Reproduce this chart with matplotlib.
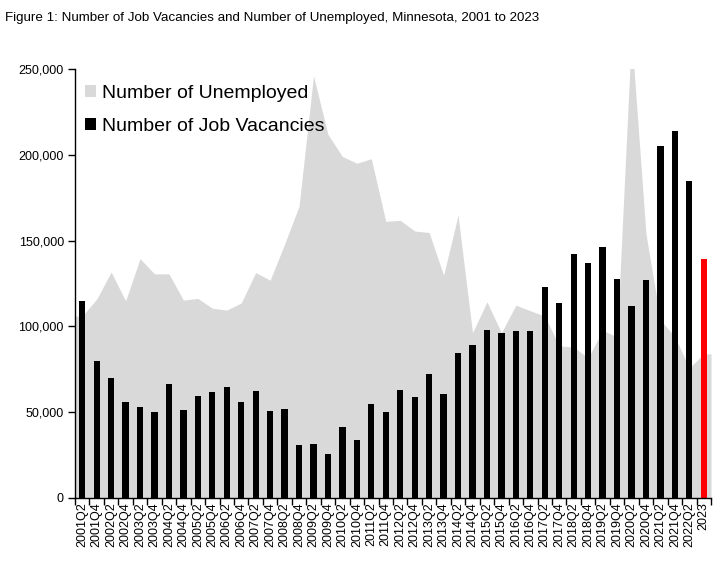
import numpy as np
import matplotlib
matplotlib.use("Agg")
import matplotlib.pyplot as plt
from matplotlib.patches import Patch
from matplotlib.ticker import FuncFormatter
from matplotlib import font_manager

# categories: half-yearly from 2001Q2 to 2022Q2, then 2023
quarters = [f"{y}Q{q}" for y in range(2001, 2023) for q in (2, 4)][:-1] + ["2023"]

vacancies = [114700, 79800, 69900, 56000, 53100, 50200, 66500, 51300, 59500, 61900,
             64700, 56000, 62400, 50800, 51900, 31000, 31600, 25800, 41500, 33900,
             54800, 50200, 63000, 58900, 72300, 60600, 84500, 89100, 97900, 96100,
             97300, 97300, 122900, 113600, 142000, 136800, 146100, 127500, 111900, 126900,
             205400, 213600, 184500, 139200]

unemployed = [106000, 115900, 131700, 114900, 139500, 130600, 130600, 115300, 116300, 110600,
              109500, 113700, 131400, 126900, 148000, 170100, 246000, 211900, 199000, 195100,
              197700, 161200, 161800, 155600, 154700, 129800, 164700, 96300, 114300, 96300,
              112400, 109100, 106000, 88600, 88000, 81600, 97800, 93800, 270000, 154000,
              103700, 94000, 75800, 84000]

GREY = "#d9d9d9"

plt.rcParams['font.family'] = ['Liberation Sans', 'DejaVu Sans']

fig = plt.figure(figsize=(7.22, 5.63), dpi=100)
ax = fig.add_axes([75 / 722, 1 - 498 / 563, 636 / 722, 429 / 563])

x = np.arange(len(quarters))
# area spans the full category width on both ends
xa = np.concatenate(([-0.5], x, [len(x) - 0.5]))
ya = np.concatenate(([unemployed[0]], unemployed, [unemployed[-1]]))
ax.fill_between(xa, 0, ya, color=GREY, lw=0, zorder=1)

colors = ["black"] * (len(x) - 1) + ["#ff0000"]
ax.bar(x, vacancies, width=0.44, color=colors, zorder=2)

ax.set_xlim(-0.5, len(x) - 0.5)
ax.set_ylim(0, 250000)
ax.set_yticks(np.arange(0, 250001, 50000))
ax.yaxis.set_major_formatter(FuncFormatter(lambda v, p: f"{int(v):,}"))
ax.tick_params(axis='y', labelsize=9, length=5, width=1, pad=3)

ax.set_xticks(x)
ax.set_xticklabels(quarters, rotation=90, fontsize=9)
ax.set_xticks(np.arange(-0.5, len(x), 1), minor=True)
ax.tick_params(axis='x', which='major', length=0, pad=3)
ax.tick_params(axis='x', which='minor', length=5, width=1)

for s in ("top", "right"):
    ax.spines[s].set_visible(False)
for s in ("left", "bottom"):
    ax.spines[s].set_linewidth(1)

handles = [Patch(facecolor=GREY, edgecolor='none', label="Number of Unemployed"),
           Patch(facecolor="black", edgecolor='none', label="Number of Job Vacancies")]
ax.legend(handles=handles, loc='upper left', bbox_to_anchor=(-0.008, 1.0), frameon=False,
          fontsize=14, handlelength=0.55, handleheight=0.55, handletextpad=0.3,
          labelspacing=0.85, borderaxespad=0.4)

# title font: a narrow face if available
names = {f.name for f in font_manager.fontManager.ttflist}
if 'Liberation Sans Narrow' in names:
    tkw = dict(family=['Liberation Sans Narrow'], fontsize=11.5)
else:
    tkw = dict(family=['Liberation Sans'], fontsize=9.6)
fig.text(5 / 722, 1 - 18 / 563,
         "Figure 1: Number of Job Vacancies and Number of Unemployed, Minnesota, 2001 to 2023",
         va='center', ha='left', **tkw)

fig.savefig("out.png", dpi=100)
